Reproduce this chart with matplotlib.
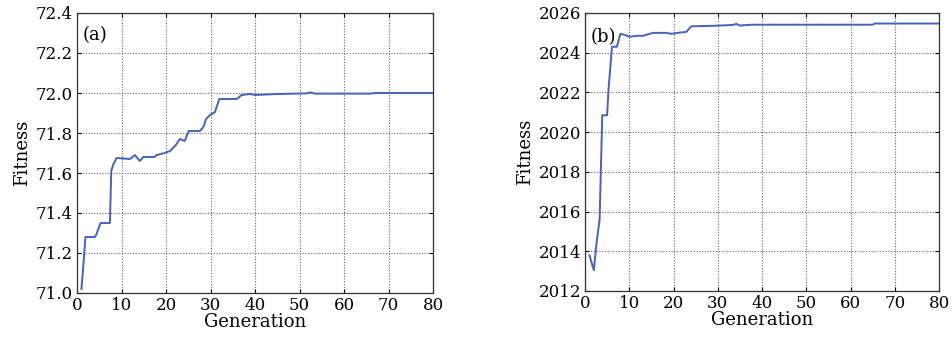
import matplotlib
matplotlib.use("Agg")
import matplotlib.pyplot as plt

# ---- data ------------------------------------------------------------
gen_a = [1.0, 1.5, 1.9, 4.0, 4.3, 5.3, 7.4, 7.7, 8.1, 8.9, 11.9, 13.0, 14.1,
         14.9, 17.4, 17.9, 19.7, 20.9, 22.2, 23.1, 24.2, 25.1, 27.6, 28.4,
         29.0, 29.9, 31.0, 32.0, 35.9, 37.0, 38.9, 40.0, 45.0, 51.5, 52.5,
         53.5, 66.0, 67.0, 80.0]
fit_a = [71.02, 71.16, 71.28, 71.28, 71.29, 71.35, 71.35, 71.61, 71.64,
         71.675, 71.67, 71.69, 71.66, 71.68, 71.68, 71.69, 71.70, 71.71,
         71.74, 71.77, 71.76, 71.81, 71.81, 71.83, 71.87, 71.89, 71.905,
         71.97, 71.97, 71.99, 71.995, 71.99, 71.995, 71.998, 72.003, 71.997,
         71.997, 72.0, 72.0]

gen_b = [1.0, 2.0, 2.6, 3.3, 3.9, 5.0, 5.3, 6.1, 7.2, 8.0, 9.0, 10.0, 11.6,
         13.0, 15.4, 18.4, 19.5, 21.0, 22.9, 24.0, 29.7, 33.4, 34.2, 35.0,
         37.7, 65.0, 65.5, 80.0]
fit_b = [2013.8, 2013.05, 2014.4, 2015.6, 2020.85, 2020.85, 2022.1, 2024.3,
         2024.3, 2024.95, 2024.9, 2024.8, 2024.85, 2024.85, 2025.0, 2025.0,
         2024.95, 2025.0, 2025.05, 2025.33, 2025.36, 2025.4, 2025.45, 2025.37,
         2025.41, 2025.41, 2025.47, 2025.47]

x_ticks = [0, 10, 20, 30, 40, 50, 60, 70, 80]
y_ticks_a = [71.0, 71.2, 71.4, 71.6, 71.8, 72.0, 72.2, 72.4]
y_ticks_b = [2012, 2014, 2016, 2018, 2020, 2022, 2024, 2026]

LINE = "#4662bd"
plt.rcParams["font.family"] = ["DejaVu Serif"]
plt.rcParams["font.size"] = 12

fig = plt.figure(figsize=(9.52, 3.42), dpi=100)
W, H = 952, 342
ax_a = fig.add_axes([77 / W, (H - 293) / H, 356 / W, 280 / H])
ax_b = fig.add_axes([585 / W, (H - 291) / H, 354 / W, 278 / H])


def style(ax, yticks, ylim, fmt):
    ax.set_xlim(0, 80)
    ax.set_ylim(*ylim)
    ax.set_xticks(x_ticks)
    ax.set_yticks(yticks)
    ax.set_yticklabels([fmt.format(v) for v in yticks])
    ax.tick_params(direction="in", length=3, width=0.8, pad=3,
                   top=True, right=True, labelsize=12)
    ax.grid(True, color="#666666", linestyle=(0, (1, 1.5)), linewidth=0.8)
    for s in ax.spines.values():
        s.set_color("#333333")
        s.set_linewidth(0.9)
    ax.set_xlabel("Generation", fontsize=13, labelpad=-1)
    ax.set_ylabel("Fitness", fontsize=13, labelpad=3)


ax_a.plot(gen_a, fit_a, color=LINE, lw=1.4)
style(ax_a, y_ticks_a, (71.0, 72.4), "{:.1f}")
ax_a.text(0.017, 0.955, "(a)", transform=ax_a.transAxes, fontsize=13,
          va="top", ha="left")

ax_b.plot(gen_b, fit_b, color=LINE, lw=1.4)
style(ax_b, y_ticks_b, (2012, 2026), "{:d}")
ax_b.text(0.017, 0.945, "(b)", transform=ax_b.transAxes, fontsize=13,
          va="top", ha="left")

fig.savefig("out.png", dpi=100, facecolor="white")
